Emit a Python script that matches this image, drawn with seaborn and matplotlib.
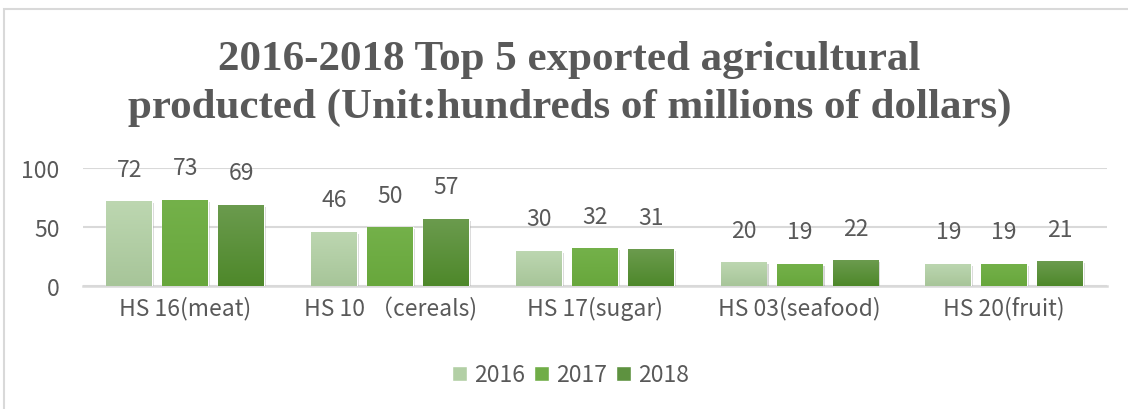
import numpy as np
import pandas as pd
import matplotlib
matplotlib.use("Agg")
import matplotlib.pyplot as plt
import seaborn as sns
from matplotlib import patheffects as pe
from matplotlib.patches import Rectangle

categories = ["HS 16(meat)", "HS 10 （cereals)", "HS 17(sugar)", "HS 03(seafood)", "HS 20(fruit)"]
years = ["2016", "2017", "2018"]
values_2016 = [72, 46, 30, 20, 19]
values_2017 = [73, 50, 32, 19, 19]
values_2018 = [69, 57, 31, 22, 21]
y_ticks = [0, 50, 100]

df = pd.DataFrame({
    "category": categories * 3,
    "year": [years[0]] * 5 + [years[1]] * 5 + [years[2]] * 5,
    "value": values_2016 + values_2017 + values_2018,
})

sns.set_theme(style="white")
plt.rcParams["font.family"] = ["Noto Sans CJK SC", "DejaVu Sans"]
plt.rcParams["font.weight"] = "light"

mid_colors = ["#b2cfa5", "#70ad47", "#5e9240"]
grad = {
    0: ("#bdd7b1", "#a7c599"),
    1: ("#74b14a", "#68a73c"),
    2: ("#6b9b4e", "#4e882a"),
}
text_color = "#595959"
grid_color = "#d9d9d9"
fs = 16.5

fig = plt.figure(figsize=(11.28, 4.10), dpi=100)
ax = fig.add_axes([0.0736, 0.300, 0.9074, 0.288])

sns.barplot(data=df, x="category", y="value", hue="year", palette=mid_colors,
            width=0.82, gap=0.18, ax=ax, legend=True, saturation=1)

ax.set_yticks(y_ticks)
ax.yaxis.grid(True, color=grid_color, linewidth=1.5)
ax.set_axisbelow(True)
for s in ["top", "right", "left"]:
    ax.spines[s].set_visible(False)
ax.spines["bottom"].set_color(grid_color)
ax.spines["bottom"].set_linewidth(1.8)
ax.spines["bottom"].set_zorder(0.5)
ax.tick_params(axis="both", length=0, labelsize=fs, labelcolor=text_color)
ax.tick_params(axis="x", pad=7)
ax.tick_params(axis="y", pad=17)
ax.set_xlabel("")
ax.set_ylabel("")

# gradient fills and soft shadows on each bar, value labels above
for i, container in enumerate(ax.containers):
    top, bot = grad[i]
    cmap = matplotlib.colors.LinearSegmentedColormap.from_list("g%d" % i, [bot, top])
    for bar in container:
        x0, w, h = bar.get_x(), bar.get_width(), bar.get_height()
        bar.set_path_effects([pe.SimplePatchShadow(offset=(1.5, -1.5), alpha=0.25,
                                                   shadow_rgbFace="#555555"), pe.Normal()])
        img = ax.imshow(np.linspace(0, 1, 100).reshape(-1, 1), cmap=cmap, origin="lower",
                        extent=[x0, x0 + w, 0, h], aspect="auto", zorder=bar.get_zorder() + 0.1)
        img.set_clip_path(bar)
    ax.bar_label(container, labels=[str(int(v)) for v in container.datavalues],
                 padding=0, fontsize=fs, color=text_color)
ax.set_xlim(-0.5, 4.5)
ax.set_ylim(0, 100)

for t in list(ax.texts):
    t.set_va("center")
    t.xyann = (0, 23)
    t.set_clip_on(False)

ax.legend(loc="upper center", bbox_to_anchor=(0.476, -0.48), ncol=3, frameon=False,
          fontsize=fs, handlelength=0.65, handleheight=0.65, handletextpad=0.3,
          columnspacing=0.4, labelcolor=text_color)

fig.text(0.505, 0.795, "2016-2018 Top 5 exported agricultural\nproducted (Unit:hundreds of millions of dollars)",
         ha="center", va="center", fontsize=31, fontweight="bold", color=text_color,
         family="Liberation Serif", linespacing=1.3)

# outer chart border
fig.add_artist(Rectangle((4 / 1128, -0.1), 1.2, 1 - 10 / 410 + 0.1, transform=fig.transFigure,
                         fill=False, edgecolor=grid_color, linewidth=1.5))

fig.savefig("out.png", dpi=100)
